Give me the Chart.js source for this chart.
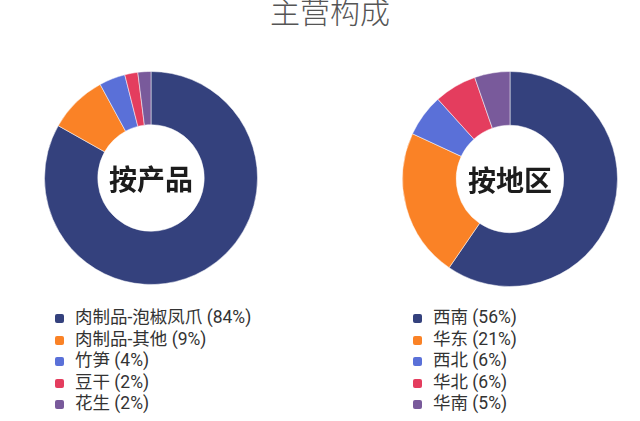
<!DOCTYPE html>
<html>
<head>
<meta charset="utf-8">
<script src="https://cdn.jsdelivr.net/npm/chart.js@4"></script>
<style>
  body { margin: 0; width: 640px; height: 421px; background: #fff; overflow: hidden; position: relative;
         font-family: "Roboto", "Noto Sans CJK SC", sans-serif; }
  #title { position: absolute; left: 10px; width: 640px; top: -12px; text-align: center;
           font-size: 30px; color: #555; font-family: "Noto Sans CJK SC", sans-serif; font-weight: 300; }
  canvas { position: absolute; }
  .legend { position: absolute; top: 307px; font-size: 17.5px; color: #333; }
  .legend div { height: 21.5px; line-height: 21.5px; white-space: nowrap; }
  .legend span.box { display: inline-block; width: 9px; height: 9px; border-radius: 2px; margin-right: 11px; vertical-align: 0px; }
</style>
</head>
<body>
<div id="title">主营构成</div>
<canvas id="c1" width="214" height="214" style="left:44px;top:71px;width:214px;height:214px"></canvas>
<canvas id="c2" width="216" height="216" style="left:402px;top:71px;width:216px;height:216px"></canvas>
<div class="legend" id="leg1" style="left:55px"></div>
<div class="legend" id="leg2" style="left:413px"></div>
<script>
// 数据
var productLabels = ['肉制品-泡椒凤爪', '肉制品-其他', '竹笋', '豆干', '花生'];
var productValues = [84, 9, 4, 2, 2];
var regionLabels = ['西南', '华东', '西北', '华北', '华南'];
var regionValues = [56, 21, 6, 6, 5];
var sliceColors = ['#34417d', '#fa8226', '#5a70d8', '#e43d5e', '#795a9b'];

// 中间的文字
var centerText = {
    id: 'centerText',
    afterDraw: function(chart, args, opts) {
        var ctx = chart.ctx;
        var a = chart.chartArea;
        ctx.save();
        ctx.font = 'bold 28px "Noto Sans CJK SC", sans-serif';
        ctx.fillStyle = '#1c1c1c';
        ctx.textAlign = 'center';
        ctx.textBaseline = 'middle';
        ctx.fillText(opts.text, (a.left + a.right) / 2, (a.top + a.bottom) / 2 + 1);
        ctx.restore();
    }
};

function makeDonut(id, labels, values, text) {
    var ctx = document.getElementById(id).getContext('2d');
    return new Chart(ctx, {
        type: 'doughnut',
        data: {
            labels: labels,
            datasets: [{ data: values, backgroundColor: sliceColors, borderColor: 'rgba(255,255,255,0.5)', borderWidth: 1 }]
        },
        options: {
            animation: false,
            responsive: false,
            maintainAspectRatio: false,
            cutout: '50%',
            layout: { padding: 0 },
            plugins: {
                legend: { display: false },
                tooltip: { enabled: false },
                centerText: { text: text }
            }
        },
        plugins: [centerText]
    });
}

function makeLegend(id, labels, values) {
    var el = document.getElementById(id);
    labels.forEach(function(l, i) {
        var row = document.createElement('div');
        var box = document.createElement('span');
        box.className = 'box';
        box.style.background = sliceColors[i];
        row.appendChild(box);
        row.appendChild(document.createTextNode(l + ' (' + values[i] + '%)'));
        el.appendChild(row);
    });
}

makeDonut('c1', productLabels, productValues, '按产品');
makeDonut('c2', regionLabels, regionValues, '按地区');
makeLegend('leg1', productLabels, productValues);
makeLegend('leg2', regionLabels, regionValues);
</script>
</body>
</html>
